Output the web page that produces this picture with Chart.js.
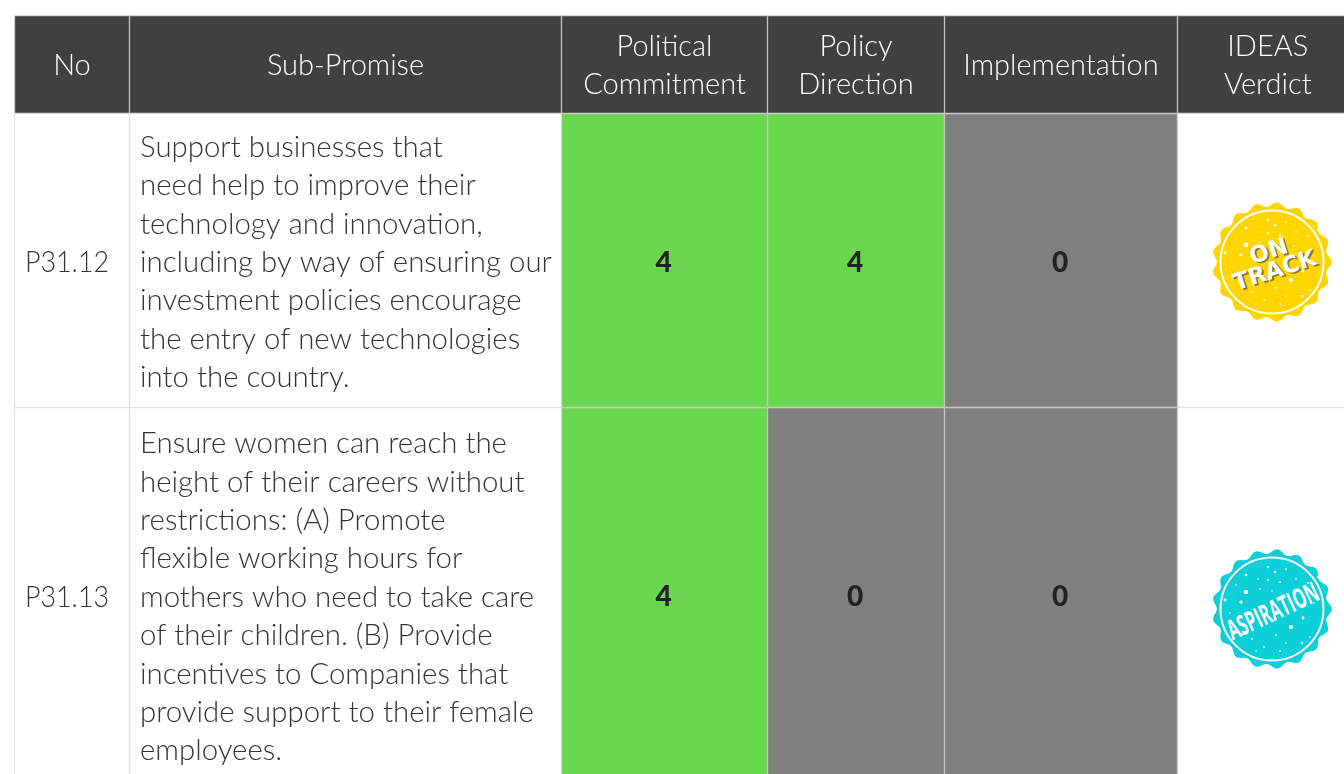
<!DOCTYPE html>
<html>
<head>
<meta charset="utf-8">
<style>
  html, body { margin: 0; padding: 0; background: #fff; overflow: hidden; }
  canvas { display: block; }
</style>
<script src="https://cdn.jsdelivr.net/npm/chart.js@4"></script>
</head>
<body>
<canvas id="scoreTable" width="1344" height="774"></canvas>
<script>
// table content
const headers = [['No'], ['Sub-Promise'], ['Political', 'Commitment'], ['Policy', 'Direction'], ['Implementation'], ['IDEAS', 'Verdict']];
const promiseIds = ['P31.12', 'P31.13'];
const subPromises = [
    ['Support businesses that', 'need help to improve their', 'technology and innovation,', 'including by way of ensuring our',
     'investment policies encourage', 'the entry of new technologies', 'into the country.'],
    ['Ensure women can reach the', 'height of their careers without', 'restrictions: (A) Promote', 'flexible working hours for',
     'mothers who need to take care', 'of their children. (B) Provide', 'incentives to Companies that', 'provide support to their female', 'employees.']
];
const politicalCommitment = [4, 4];
const policyDirection = [4, 0];
const implementation = [0, 0];
const verdicts = ['ON TRACK', 'ASPIRATION'];

// grid, in scale units
const columnEdges = [14.5, 129.5, 561.5, 767.5, 944.5, 1177.5, 1358];
const rowEdges = [15.5, 113.5, 407.5, 785];

const DARK = '#404040', GREEN = '#6ad84e', GREY = '#7f817f', INK = '#333333';
const BODY_FONT = '"Lato", "Open Sans", sans-serif';
const LINE_HEIGHT = 38.4;

const scoreColumns = { 2: politicalCommitment, 3: policyDirection, 4: implementation };

function cellColor(col, row) {
    if (row === 0) return DARK;
    if (scoreColumns[col]) return scoreColumns[col][row - 1] > 0 ? GREEN : GREY;
    return '#ffffff';
}

// one floating bar per cell, one dataset per column
const datasets = headers.map((h, col) => ({
    label: h.join(' '),
    grouped: false,
    barThickness: columnEdges[col + 1] - columnEdges[col],
    borderSkipped: false,
    borderWidth: 1,
    borderColor: ctx => {
        const fill = cellColor(col, ctx.dataIndex);
        return fill === '#ffffff' ? '#dddddd' : '#bdbdbd';
    },
    backgroundColor: ctx => cellColor(col, ctx.dataIndex),
    data: [0, 1, 2].map(row => ({
        x: (columnEdges[col] + columnEdges[col + 1]) / 2,
        y: [rowEdges[row], rowEdges[row + 1]]
    }))
}));

// white flecks on the stamps, offsets from the stamp centre
const flecks = [[-26, -34, 1.3], [-26, -17, 2.3], [-31, -7, 1.6], [-47, -9, 1.4], [-4, -42, 1.2], [3, -37, 1.3], [19, 18, 2.1], [31, 9, 1.4],
    [8, -27, 1], [-4, -29, 1.1], [46, -32, 1], [-14, -30, 0.8], [14, -40, 0.9], [24, -30, 0.8], [36, -26, 1.1], [-36, -24, 0.8],
    [-20, 30, 0.9], [-8, 38, 0.9], [8, 42, 1.1], [30, 34, 1.2], [38, 28, 0.8], [-40, 18, 0.8], [-30, 26, 0.8], [4, 26, 0.9],
    [14, 34, 0.7], [-16, 42, 0.7], [22, -16, 0.8], [-12, -20, 0.8], [42, -6, 0.8], [26, 44, 0.7], [-42, 4, 0.7], [0, -18, 0.7]];

function drawStamp(c, cx, cy, color, verdict) {
    c.save();
    c.translate(cx, cy);
    c.beginPath();
    for (let i = 0; i <= 360; i++) {
        const a = i * Math.PI / 180;
        const r = 57.5 + 2.3 * Math.cos(17 * a);
        c.lineTo(r * Math.cos(a), r * Math.sin(a));
    }
    c.closePath();
    c.fillStyle = color;
    c.fill();
    c.beginPath();
    c.arc(0, 0, 51.5, 0, Math.PI * 2);
    c.lineWidth = 2;
    c.strokeStyle = '#ffffff';
    c.stroke();
    c.fillStyle = '#ffffff';
    flecks.forEach(f => {
        c.beginPath();
        c.arc(f[0], f[1], f[2], 0, Math.PI * 2);
        c.fill();
    });
    c.textAlign = 'center';
    c.textBaseline = 'middle';
    if (verdict === 'ON TRACK') {
        c.rotate(-18 * Math.PI / 180);
        c.font = 'bold 23px "DejaVu Sans", sans-serif';
        [['ON', 0, -10, 40], ['TRACK', 0, 10, 90]].forEach(t => {
            c.fillStyle = '#8a7a3a';
            c.fillText(t[0], t[1] + 1.5, t[2] + 2, t[3]);
            c.fillStyle = '#ffffff';
            c.fillText(t[0], t[1], t[2], t[3]);
        });
    } else {
        c.rotate(-25 * Math.PI / 180);
        c.font = 'bold 28px "Liberation Sans Narrow", "Open Sans", sans-serif';
        c.fillStyle = '#ffffff';
        c.fillText(verdict, 0, 4, 98);
    }
    c.restore();
}

// text and stamps placed through the chart's own scales
const tableText = {
    id: 'tableText',
    afterDatasetsDraw(chart) {
        const c = chart.ctx;
        const x = chart.scales.x, y = chart.scales.y;
        const colMid = col => x.getPixelForValue((columnEdges[col] + columnEdges[col + 1]) / 2);
        const rowMid = row => y.getPixelForValue((rowEdges[row] + rowEdges[row + 1]) / 2);
        c.save();
        c.textBaseline = 'middle';
        c.textAlign = 'center';
        c.fillStyle = '#ffffff';
        c.font = '300 29px ' + BODY_FONT;
        headers.forEach((lines, col) => {
            lines.forEach((line, i) => {
                c.fillText(line, colMid(col), rowMid(0) + 1 + (i - (lines.length - 1) / 2) * LINE_HEIGHT);
            });
        });
        subPromises.forEach((lines, r) => {
            const mid = rowMid(r + 1) + (r === 0 ? 2 : 1);
            c.fillStyle = INK;
            c.textAlign = 'left';
            c.font = '300 29.4px ' + BODY_FONT;
            c.fillText(promiseIds[r], x.getPixelForValue(25), mid, 84);
            lines.forEach((line, i) => {
                c.fillText(line, x.getPixelForValue(columnEdges[1] + 10.5), mid + (i - (lines.length - 1) / 2) * LINE_HEIGHT);
            });
            c.textAlign = 'center';
            c.font = '900 28px ' + BODY_FONT;
            c.fillStyle = '#222222';
            [politicalCommitment, policyDirection, implementation].forEach((scores, k) => {
                c.fillText(String(scores[r]), colMid(k + 2) - 1, mid);
            });
        });
        c.restore();
        drawStamp(c, x.getPixelForValue(1272), y.getPixelForValue(262), '#ffd500', verdicts[0]);
        drawStamp(c, x.getPixelForValue(1272), y.getPixelForValue(609), '#0ccfd8', verdicts[1]);
    }
};

new Chart(document.getElementById('scoreTable'), {
    type: 'bar',
    data: { datasets: datasets },
    options: {
        responsive: false,
        animation: false,
        layout: { padding: 0 },
        plugins: { legend: { display: false }, tooltip: { enabled: false }, title: { display: false } },
        scales: {
            x: { type: 'linear', min: 0, max: 1344, offset: false, display: false },
            y: { type: 'linear', min: 0, max: 774, reverse: true, display: false }
        }
    },
    plugins: [tableText]
});
</script>
</body>
</html>
